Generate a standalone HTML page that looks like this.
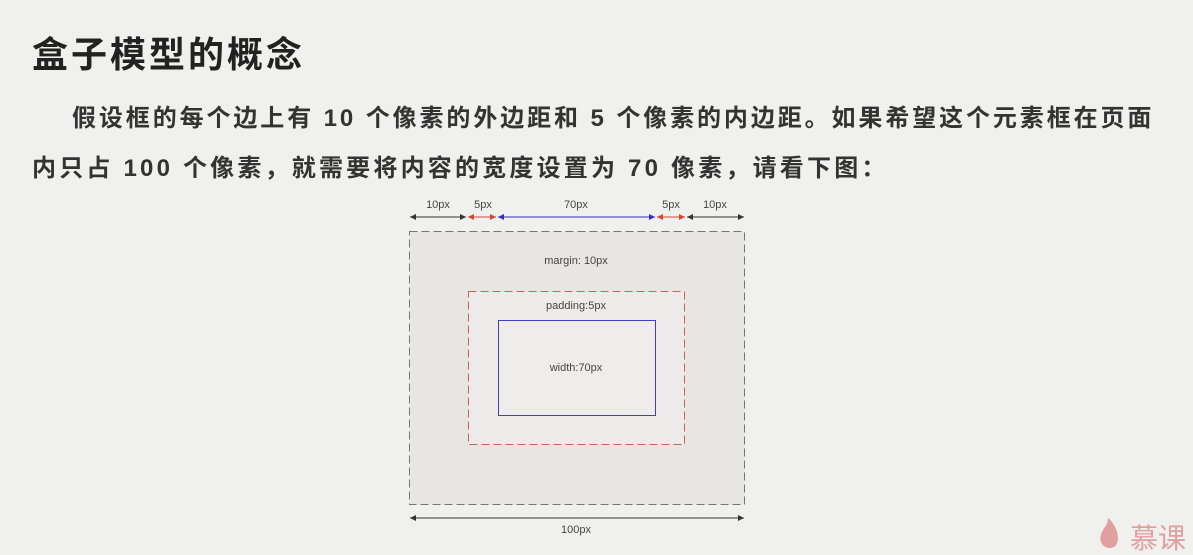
<!DOCTYPE html>
<html><head><meta charset="utf-8"><style>
body{margin:0;width:1193px;height:555px;background:#f0f0ef;overflow:hidden;position:relative;font-family:"Liberation Sans","Noto Sans CJK SC",sans-serif;}
.t{position:absolute;left:32px;top:26px;font-size:36px;letter-spacing:3px;font-weight:bold;color:#222;white-space:nowrap}
.p{position:absolute;left:32px;font-size:24px;letter-spacing:2.9px;font-weight:bold;color:#333;white-space:nowrap}
svg{position:absolute;left:0;top:0}
</style></head><body>
<div class="t">盒子模型的概念</div>
<div class="p" style="top:98px;left:72px">假设框的每个边上有 10 个像素的外边距和 5 个像素的内边距。如果希望这个元素框在页面</div>
<div class="p" style="top:148px;letter-spacing:3.2px">内只占 100 个像素，就需要将内容的宽度设置为 70 像素，请看下图：</div>
<svg width="1193" height="555" font-family="Liberation Sans, sans-serif" font-size="11" fill="#444">
<defs>
<marker id="k" viewBox="0 0 8 8" refX="8" refY="4" markerWidth="6" markerHeight="6" orient="auto-start-reverse"><path d="M0,0L8,4L0,8z" fill="#333"/></marker>
<marker id="r" viewBox="0 0 8 8" refX="8" refY="4" markerWidth="6" markerHeight="6" orient="auto-start-reverse"><path d="M0,0L8,4L0,8z" fill="#d04a30"/></marker>
<marker id="b" viewBox="0 0 8 8" refX="8" refY="4" markerWidth="6" markerHeight="6" orient="auto-start-reverse"><path d="M0,0L8,4L0,8z" fill="#3030c0"/></marker>
</defs>
<line x1="410" y1="217" x2="466" y2="217" stroke="#333" marker-start="url(#k)" marker-end="url(#k)"/>
<line x1="468" y1="217" x2="496" y2="217" stroke="#d04a30" marker-start="url(#r)" marker-end="url(#r)"/>
<line x1="498" y1="217" x2="655" y2="217" stroke="#3030c0" marker-start="url(#b)" marker-end="url(#b)"/>
<line x1="657" y1="217" x2="685" y2="217" stroke="#d04a30" marker-start="url(#r)" marker-end="url(#r)"/>
<line x1="687" y1="217" x2="744" y2="217" stroke="#333" marker-start="url(#k)" marker-end="url(#k)"/>
<text x="438" y="208" text-anchor="middle">10px</text>
<text x="483" y="208" text-anchor="middle">5px</text>
<text x="576" y="208" text-anchor="middle">70px</text>
<text x="671" y="208" text-anchor="middle">5px</text>
<text x="715" y="208" text-anchor="middle">10px</text>
<rect x="409.5" y="231.5" width="335" height="273" fill="#e8e6e2" stroke="#777" stroke-dasharray="8,4"/>
<text x="576" y="264" text-anchor="middle">margin: 10px</text>
<rect x="468.5" y="291.5" width="216" height="153" fill="#edecea" stroke="#d06050" stroke-dasharray="8,4"/>
<text x="576" y="309" text-anchor="middle">padding:5px</text>
<rect x="498.5" y="320.5" width="157" height="95" fill="#eeedeb" stroke="#4040c0"/>
<text x="576" y="371" text-anchor="middle">width:70px</text>
<line x1="410" y1="518" x2="744" y2="518" stroke="#333" marker-start="url(#k)" marker-end="url(#k)"/>
<text x="576" y="533" text-anchor="middle">100px</text>
<text x="1130" y="548" font-size="28" fill="#e0a0a0" font-family="Noto Sans CJK SC, sans-serif">慕课</text>
<path d="M1110,548c-8,0-12-8-8-16c3-6,6-8,6-14c5,4,10,12,10,20c0,6-3,10-8,10z" fill="#e0a0a0"/>
</svg>
</body></html>
